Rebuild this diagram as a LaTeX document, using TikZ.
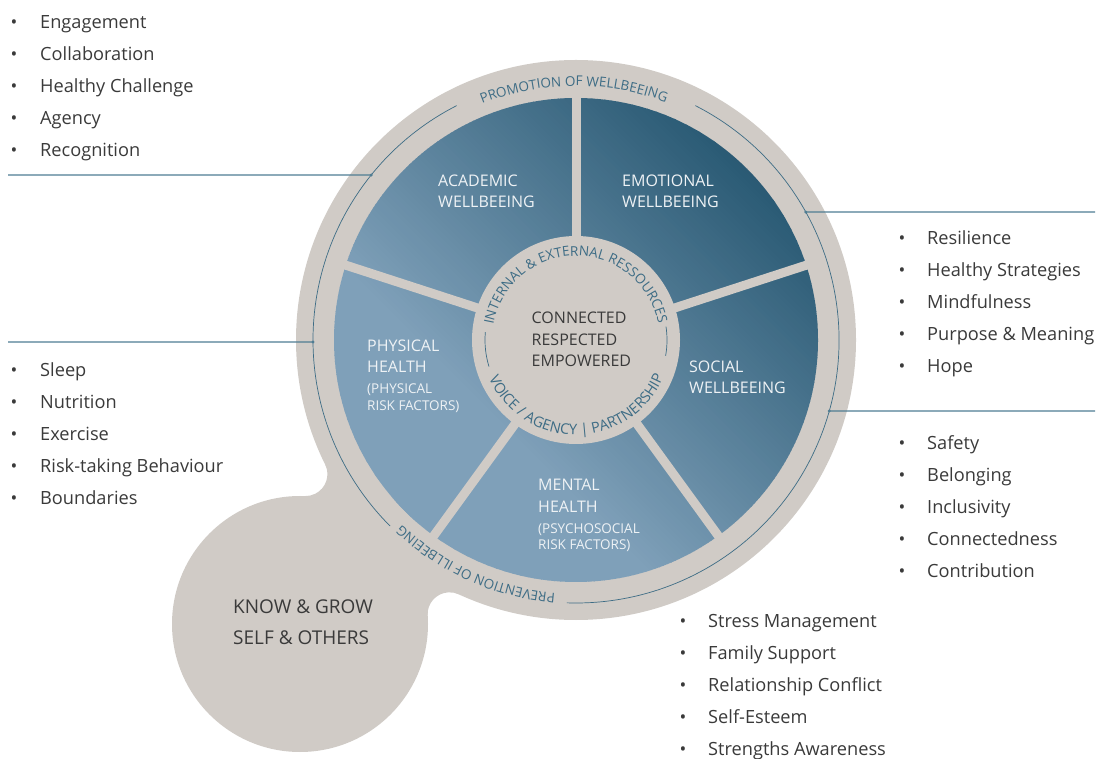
\documentclass[tikz,border=0pt]{standalone}
\usepackage{fontspec}
\setmainfont{Open Sans}
\usetikzlibrary{decorations.text,calc}
\definecolor{ringgrey}{HTML}{D0CBC6}
\definecolor{bluedark}{HTML}{2A5A74}
\definecolor{bluelight}{HTML}{7FA0B9}
\definecolor{ringteal}{HTML}{3D6C85}
\definecolor{labelwhite}{HTML}{EEF2F5}
\definecolor{darktext}{HTML}{3A3A3A}
\definecolor{linecol}{HTML}{4F7D93}
\begin{document}
\begin{tikzpicture}[x=1pt,y=1pt,
  listtext/.style={anchor=base west, inner sep=0, text=darktext, font=\fontsize{18.2}{22}\selectfont},
  bul/.style={anchor=base, inner sep=0, text=darktext, font=\fontsize{18}{20}\selectfont},
  wlabel/.style={anchor=base west, inner sep=0, text=labelwhite, font=\fontsize{16}{18}\selectfont},
  wsmall/.style={anchor=base west, inner sep=0, text=labelwhite, font=\fontsize{13.5}{15}\selectfont},
  ctext/.style={anchor=base west, inner sep=0, text=darktext, font=\fontsize{16}{18}\selectfont},
  ktext/.style={anchor=base west, inner sep=0, text=darktext, font=\fontsize{19}{22}\selectfont},
  ringline/.style={draw=ringteal, line width=0.7},
  conn/.style={draw=linecol, line width=1.1},
  ringtext/.style={decorate, decoration={text along path, text align=center, text color=ringteal,
     text format delimiters={[}{]}, text={#1}}}
]
\useasboundingbox (0,0) rectangle (1100,758);
\coordinate (C) at (576,418);
\coordinate (K) at (300,134);
\coordinate (Fa) at (449.6,143.7);
\coordinate (Fb) at (305.4,283.9);
% neck between the two discs, with concave fillets
\fill[ringgrey] ($(Fb)+(26.36:22)$) arc[start angle=26.36, end angle=-92.06, radius=22]
  -- ($(Fa)+(183.71:22)$) arc[start angle=183.71, end angle=65.26, radius=22] -- cycle;
\fill[ringgrey] (C) circle[radius=280];
\fill[ringgrey] (K) circle[radius=128];
% blue gradient disc
\begin{scope}
  \clip (C) circle[radius=242];
  \begin{scope}[shift={(C)}, rotate=45]
    \foreach \t in {-250,-246,...,250}{
      \pgfmathsetmacro{\p}{max(0,min(100,(\t+115)/355*100))}
      \fill[bluedark!\p!bluelight] (\t,-250) rectangle (\t+4.6,250);
    }
  \end{scope}
\end{scope}
% spokes
\foreach \a in {90,18,-54,-126,162}
  \draw[ringgrey, line width=9] (C) -- ++(\a:250);
\fill[ringgrey] (C) circle[radius=104];
% thin ring line
\draw[ringline] ($(C)+(117:263)$) arc[start angle=117, end angle=225, radius=263];
\draw[ringline] ($(C)+(63:263)$) arc[start angle=63, end angle=-92, radius=263];
% inner dashes
\draw[ringline] ($(C)+(175:91)$) arc[start angle=175, end angle=197, radius=91];
\draw[ringline] ($(C)+(8.5:91)$) arc[start angle=8.5, end angle=-10, radius=91];
% ring texts
\path[ringtext={[\fontsize{13.5}{14}\selectfont]PROMOTION OF WELLBEEING}]
  ($(C)+(130:254)$) arc[start angle=130, end angle=51, radius=254];
\path[ringtext={[\fontsize{13.5}{14}\selectfont]PREVENTION OF ILLBEEING}]
  ($(C)+(-69:254)$) arc[start angle=-69, end angle=-159, radius=254];
\path[ringtext={[\fontsize{13.6}{14}\selectfont]INTERNAL {\&} EXTERNAL RESSOURCES}]
  ($(C)+(176:84)$) arc[start angle=176, end angle=5, radius=84];
\path[ringtext={[\fontsize{14.6}{15}\selectfont]VOICE / AGENCY {|} PARTNERSHIP}]
  ($(C)+(-172:95)$) arc[start angle=-172, end angle=-7, radius=95];
% connectors
\coordinate (L1a) at (8,583);
\coordinate (L1b) at ($(C)+(141.15:263)$);
\coordinate (L2a) at (8,416);
\coordinate (L2b) at ($(C)+(180.44:263)$);
\coordinate (R1a) at ($(C)+(29.12:263)$);
\coordinate (R1b) at (1095,546);
\coordinate (R2a) at ($(C)+(-15.66:263)$);
\coordinate (R2b) at (1095,347);
\draw[conn] (L1a) -- (L1b);
\draw[conn] (L2a) -- (L2b);
\draw[conn] (R1a) -- (R1b);
\draw[conn] (R2a) -- (R2b);
\foreach \c in {L1b,L2b,R1a,R2a} \fill[linecol] (\c) circle[radius=1.6];
% wheel labels
\node[wlabel] (acad1) at (438,571) {ACADEMIC};
\node[wlabel] (acad2) at (438,550) {WELLBEEING};
\node[wlabel] (emo1) at (622,571) {EMOTIONAL};
\node[wlabel] (emo2) at (622,550) {WELLBEEING};
\node[wlabel] (phys1) at (367,406) {PHYSICAL};
\node[wlabel] (phys2) at (367,385) {HEALTH};
\node[wsmall] (phys3) at (367,364) {(PHYSICAL};
\node[wsmall] (phys4) at (367,347) {RISK FACTORS)};
\node[wlabel] (soc1) at (689,385) {SOCIAL};
\node[wlabel] (soc2) at (689,364) {WELLBEEING};
\node[wlabel] (ment1) at (538,267) {MENTAL};
\node[wlabel] (ment2) at (538,245) {HEALTH};
\node[wsmall] (ment3) at (538,224) {(PSYCHOSOCIAL};
\node[wsmall] (ment4) at (538,208) {RISK FACTORS)};
\node[ctext] (cen1) at (531.5,434) {CONNECTED};
\node[ctext] (cen2) at (531.5,412.5) {RESPECTED};
\node[ctext] (cen3) at (531.5,391) {EMPOWERED};
\node[ktext] (know1) at (233,145) {KNOW \& GROW};
\node[ktext] (know2) at (233,114) {SELF \& OTHERS};
% lists
\foreach \txt [count=\i] in {Engagement,Collaboration,Healthy Challenge,Agency,Recognition}{
  \node[bul] (tlb\i) at (14,{761-32*\i}) {•};
  \node[listtext] (tl\i) at (40,{761-32*\i}) {\txt};
}
\foreach \txt [count=\i] in {Sleep,Nutrition,Exercise,Risk-taking Behaviour,Boundaries}{
  \node[bul] (mlb\i) at (14,{413-32*\i}) {•};
  \node[listtext] (ml\i) at (40,{413-32*\i}) {\txt};
}
\foreach \txt [count=\i] in {Resilience,Healthy Strategies,Mindfulness,Purpose \& Meaning,Hope}{
  \node[bul] (rtb\i) at (902,{545-32*\i}) {•};
  \node[listtext] (rt\i) at (927,{545-32*\i}) {\txt};
}
\foreach \txt [count=\i] in {Safety,Belonging,Inclusivity,Connectedness,Contribution}{
  \node[bul] (rmb\i) at (902,{340-32*\i}) {•};
  \node[listtext] (rm\i) at (927,{340-32*\i}) {\txt};
}
\foreach \txt [count=\i] in {Stress Management,Family Support,Relationship Conflict,Self-Esteem,Strengths Awareness}{
  \node[bul] (bmb\i) at (683,{163-32*\i}) {•};
  \node[listtext] (bm\i) at (708,{163-32*\i}) {\txt};
}
\end{tikzpicture}
\end{document}
